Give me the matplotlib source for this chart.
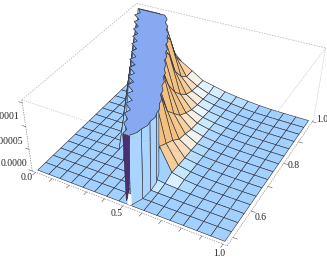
import numpy as np
import matplotlib
matplotlib.use('Agg')
import matplotlib.pyplot as plt
from matplotlib.colors import LinearSegmentedColormap
from mpl_toolkits.mplot3d.art3d import Poly3DCollection

# surface heights, unit 1e-5, clipped at the top of the plot
x_vals = [0, .067, .133, .2, .267, .333, .4, .467, .533, .6, .667, .733, .8, .867, .933, 1]
y_vals = [.48, .515, .549, .584, .619, .653, .688, .723, .757, .792, .827, .861, .896, .931, .965, 1]
z_rows = [
    [0, 0, 0, 0, 0, 0, 0, 0, 0, 0, 0, 0, 0, 0, 0, 0],
    [0, 0, 0, 0, 0, 0, 0, 0, 0, .05, 0, 0, 0, 0, 0, 0],
    [0, 0, 0, 0, 0, 0, 0, 0, .2, .1, .05, 0, 0, 0, 0, 0],
    [0, 0, 0, 0, 0, 0, 0, 0, .8, .4, .2, .05, 0, 0, 0, 0],
    [0, 0, 0, 0, 0, 0, 15, 15, 6, 1.1, .45, .15, .05, .02, 0, 0],
    [0, 0, 0, 0, 0, 15, 15, 15, 5, 1, .45, .2, .08, .03, 0, 0],
    [0, 0, 0, 0, 0, 15, 15, 13, 4, .9, .45, .22, .1, .04, 0, 0],
    [0, 0, 0, 0, 15, 15, 15, 8, 2.6, .85, .45, .25, .12, .05, .02, 0],
    [0, 0, 0, 0, 15, 15, 15, 6, 2.2, .8, .45, .25, .12, .05, .02, 0],
    [0, 0, 0, 15, 15, 15, 10, 4, 1.6, .8, .45, .25, .12, .06, .02, 0],
    [0, 0, 0, 15, 15, 15, 7, 3, 1.4, .8, .45, .25, .12, .06, .02, 0],
    [0, 0, 15, 15, 15, 13, 5, 2.2, 1.2, .7, .4, .2, .1, .05, .02, 0],
    [0, 0, 15, 15, 15, 8, 3.5, 1.8, 1.05, .65, .35, .2, .1, .05, .02, 0],
    [0, 15, 15, 15, 13, 5.5, 2.8, 1.6, 1, .65, .35, .15, .08, .04, .02, 0],
    [0, 15, 15, 15, 8, 4, 2.5, 1.5, 1, .65, .35, .15, .08, .04, .02, 0],
    [15, 15, 15, 8, 5.5, 4, 2.4, 1.8, 1.2, .8, .5, .25, .1, .05, .02, 0],
]

# outline of the clipped top, sawtooth on the left side
cap_y = [.48, .4975, .515, .532, .549, .5665, .584, .6015, .619, .636, .653, .6705, .688, .7055, .723, .74,
         .757, .7745, .792, .8095, .827, .844, .861, .8785, .896, .9135, .931, .948, .965, .9825, 1]
cap_left = [.50, .50, .465, .465, .43, .44, .395, .41, .36, .375, .327, .34, .29, .305, .257, .27,
            .22, .235, .19, .20, .153, .165, .12, .13, .085, .095, .05, .06, .015, .03, 0]
cap_right = [.53, .55, .555, .565, .56, .565, .555, .55, .53, .525, .50, .495, .47, .465, .44, .435,
             .41, .402, .375, .37, .345, .338, .31, .305, .28, .272, .24, .232, .20, .192, .16]
wall_x = [.53, .555, .56, .555, .53]
wall_y = [.48, .515, .549, .584, .619]
z_top = 15

x_ticks = [0, .1, .2, .3, .4, .5, .6, .7, .8, .9, 1]
y_ticks = [.5, .6, .7, .8, .9, 1]
z_ticks = [0, 5, 10, 15]

# box corners (x, y, z) and where they sit in the picture, gives the camera
box_x = (-.02, 1.02)
box_y = (.47, 1.01)
box_z = (0, 15.6)
cam_world = [(box_x[0], box_y[0], box_z[0]), (box_x[1], box_y[0], box_z[0]), (box_x[1], box_y[1], box_z[0]),
             (box_x[0], box_y[1], box_z[0]), (box_x[0], box_y[0], box_z[1]), (box_x[1], box_y[0], box_z[1]),
             (box_x[1], box_y[1], box_z[1]), (box_x[0], box_y[1], box_z[1])]
cam_pix = [(33, 170), (229, 245), (315, 118), (135, 73), (21, 99), (232, 173), (324, 48), (140, 2)]


def fit_camera(world, pix):
    rows = []
    for (x, y, z), (u, v) in zip(world, pix):
        p = [x, y, z / 15, 1]
        u, v = u / 300, v / 300
        rows.append(p + [0, 0, 0, 0] + [-u * c for c in p])
        rows.append([0, 0, 0, 0] + p + [-v * c for c in p])
    P = np.linalg.svd(np.array(rows))[2][-1].reshape(3, 4)
    P[:, 2] /= 15
    P[:2] *= 300
    if P[2] @ np.array([.5, .7, 7, 1]) < 0:
        P = -P
    return P / (P[2] @ np.array([.5, .7, 7, 1]))


W, H = 327, 257
fig = plt.figure(figsize=(W / 100, H / 100), dpi=100)
# 3d axes are always square, so a square bigger than the figure
ax = fig.add_axes([0, -35 / H, 1, W / H], projection='3d')
ax.set_axis_off()
ax.computed_zorder = False

P = fit_camera(cam_world, cam_pix)
vx0, vx1 = ax.viewLim.intervalx
vy0, vy1 = ax.viewLim.intervaly
M = np.array([
    vx0 * P[2] + (vx1 - vx0) / W * P[0],
    vy0 * P[2] + (vy1 - vy0) / W * ((H + 35) * P[2] - P[1]),
    [0, 0, 0, -1],
    P[2],
])
ax.get_proj = lambda: M

X, Y = np.meshgrid(x_vals, y_vals)
Z = np.array(z_rows, dtype=float)

# colour from how steep each face is, faces rising to the right or to the back stay blue
cmap = LinearSegmentedColormap.from_list('steep', [(0, '#A2D1FF'), (.25, '#BDE4FF'), (.45, '#EAF8FF'),
                                                   (.65, '#FCEBD6'), (1, '#F4C07F')])
steep = np.zeros(Z.shape)
for j in range(Z.shape[0] - 1):
    for i in range(Z.shape[1] - 1):
        face = Z[j:j + 2, i:i + 2]
        steep[j, i] = face.max() - face.min()
        if face[:, 1].sum() > face[:, 0].sum() + 1 or face[1].sum() > face[0].sum() + 1:
            steep[j, i] = 0
t = np.clip(np.log10(np.maximum(steep, .25) / .25) / np.log10(28), 0, 1)
ax.plot_surface(X, Y, Z, facecolors=cmap(t), rstride=1, cstride=1, shade=False,
                edgecolor='#30303a', linewidth=.42, antialiased=True, zorder=3)


def box_line(a, b, z, color='#b8b8b8', lw=.55, ls=(0, (2, 1.5))):
    ax.plot([a[0], b[0]], [a[1], b[1]], [a[2], b[2]], color=color, lw=lw, ls=ls, zorder=z)


c = cam_world
for a, b in [(c[4], c[7]), (c[7], c[6])]:
    box_line(a, b, 1)
for a, b in [(c[4], c[5]), (c[5], c[6]), (c[5], c[1]), (c[6], c[2])]:
    box_line(a, b, 8, color='#c0c0c0', lw=.45)
for a, b in [(c[0], c[1]), (c[1], c[2]), (c[0], c[4])]:
    box_line(a, b, 8, color='#8a8a8a', lw=.5)

# ticks
for v in x_ticks:
    box_line((v, box_y[0], 0), (v, box_y[0] - .012, 0), 8, color='#666666', lw=.45, ls='-')
for v in y_ticks:
    box_line((box_x[1], v, 0), (box_x[1] + .02, v, 0), 8, color='#666666', lw=.45, ls='-')
for v in z_ticks:
    box_line((box_x[0], box_y[0], v), (box_x[0] - .02, box_y[0], v), 8, color='#666666', lw=.45, ls='-')

# near vertical front of the spike
wall_X = np.array([wall_x, wall_x])
wall_Y = np.array([wall_y, wall_y])
wall_Z = np.array([[0] * len(wall_x), [z_top] * len(wall_x)], dtype=float)
ax.plot_surface(wall_X, wall_Y, wall_Z, color='#AAD5FF', shade=False, rstride=1, cstride=1,
                edgecolor='#30303a', linewidth=.42, zorder=4)

# dark end face, with the small gap at its foot
end_face = [[(.50, y_vals[0], z_top), (.535, y_vals[0], z_top), (.52, y_vals[0], 2.2), (.505, y_vals[0], .8)]]
ax.add_collection3d(Poly3DCollection(end_face, facecolor='#4A2F73', edgecolor='#2a2a3a', linewidth=.4, zorder=5))
gap = [[(.512, y_vals[0], 0), (.535, y_vals[0], 0), (.535, y_vals[0], 2.6), (.52, y_vals[0], 2.6)]]
ax.add_collection3d(Poly3DCollection(gap, facecolor='white', edgecolor='none', zorder=5))

# clipped top
cap = list(zip(cap_left, cap_y, [z_top] * len(cap_y))) + list(zip(cap_right[::-1], cap_y[::-1], [z_top] * len(cap_y)))
ax.add_collection3d(Poly3DCollection([cap], facecolor='#86A9F2', edgecolor='#2a3040', linewidth=.5, zorder=6))

labels = [('0.0', 27, 177, 'center'), ('0.5', 117, 213, 'center'), ('1.0', 219, 253, 'center'),
          ('0.6', 261, 217, 'center'), ('0.8', 294, 165, 'center'), ('1.0', 322, 120, 'center'),
          ('0.0000', 27, 164, 'right'), ('0.00005', 23, 141, 'right'), ('0.0001', 19, 117, 'right')]
for s, px, py, ha in labels:
    fig.text(px / W, 1 - py / H, s, ha=ha, va='center', fontsize=6.9, family='Liberation Serif', color='#222222')

fig.savefig('out.png', dpi=100)
